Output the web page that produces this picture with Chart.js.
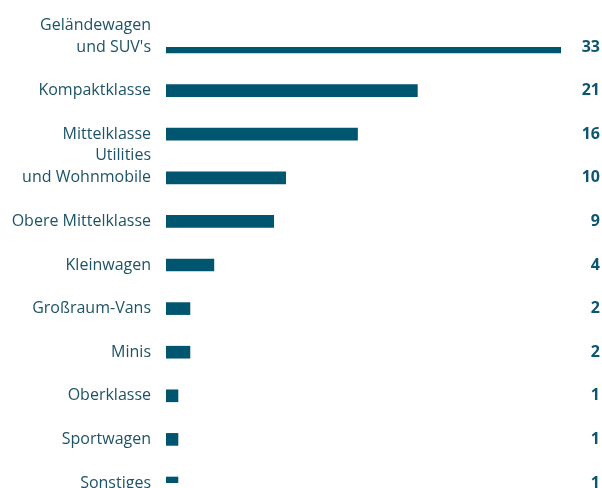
<!DOCTYPE html>
<html>
<head>
<meta charset="utf-8">
<script src="https://cdn.jsdelivr.net/npm/chart.js@4/dist/chart.umd.min.js"></script>
<style>
html,body{margin:0;padding:0;background:#fff;overflow:hidden;}
#wrap{width:602px;height:488px;position:relative;}
</style>
</head>
<body>
<div id="wrap"><canvas id="c"></canvas></div>
<script>
const categories = [
  ["Geländewagen", "und SUV's", ""],
  "Kompaktklasse",
  "Mittelklasse",
  ["Utilities", "und Wohnmobile", ""],
  "Obere Mittelklasse",
  "Kleinwagen",
  "Großraum-Vans",
  "Minis",
  "Oberklasse",
  "Sportwagen",
  "Sonstiges"
];
const values = [33, 21, 16, 10, 9, 4, 2, 2, 1, 1, 1];
const valueLabels = values.map(v => String(v));

const barColor = '#00556f';
const labelColor = '#1d5366';
const valueColor = '#0d5670';

new Chart(document.getElementById('c'), {
  type: 'bar',
  data: {
    labels: categories,
    datasets: [{
      data: values,
      backgroundColor: barColor,
      borderWidth: 0,
      barThickness: 12,
      yAxisID: 'y'
    }]
  },
  options: {
    indexAxis: 'y',
    responsive: true,
    maintainAspectRatio: false,
    animation: false,
    layout: { padding: { top: 47, bottom: 5, left: 0, right: 2 } },
    plugins: { legend: { display: false }, tooltip: { enabled: false } },
    scales: {
      x: {
        display: false,
        min: 0,
        max: 33
      },
      y: {
        type: 'category',
        position: 'left',
        offset: false,
        grid: { display: false, drawTicks: false },
        border: { display: false },
        ticks: {
          padding: 15,
          color: labelColor,
          font: { family: 'Open Sans', size: 16, lineHeight: '22px' },
          autoSkip: false
        },
        afterFit: s => { s.width = 166; s.paddingTop = 0; s.paddingBottom = 0; }
      },
      y2: {
        type: 'category',
        position: 'right',
        labels: valueLabels,
        offset: false,
        grid: { display: false, drawTicks: false },
        border: { display: false },
        ticks: {
          crossAlign: 'far',
          padding: 0,
          color: valueColor,
          font: { family: 'Open Sans', size: 16, weight: 'bold', lineHeight: '22px' },
          autoSkip: false
        },
        afterFit: s => { s.width = 39; s.paddingTop = 0; s.paddingBottom = 0; }
      }
    }
  }
});
</script>
</body>
</html>
